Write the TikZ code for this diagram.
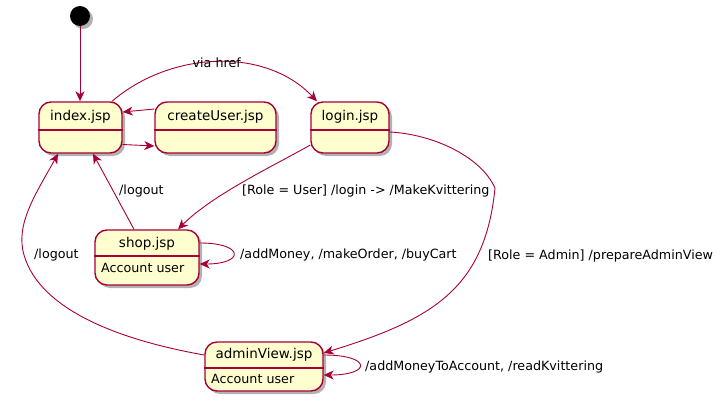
\documentclass[tikz,border=0pt]{standalone}
\usepackage{fontspec}
\setmainfont{DejaVu Sans}
\usepackage{xcolor}
\usetikzlibrary{arrows.meta}
\usetikzlibrary{shadows}

\definecolor{umlred}{HTML}{A80036}
\definecolor{umlfill}{HTML}{FEFECE}

\begin{document}
\begin{tikzpicture}[x=1pt, y=-1pt,
    statebox/.style={draw=umlred, fill=umlfill, line width=1.4pt, rounded corners=12pt, inner sep=0pt,
        drop shadow={shadow xshift=3pt, shadow yshift=-3pt, opacity=0.3, fill=black}},
    initial/.style={circle, fill=black, minimum size=20pt, inner sep=0pt,
        drop shadow={shadow xshift=3pt, shadow yshift=-3pt, opacity=0.3, fill=black}},
    statename/.style={font=\fontsize{13.5}{16}\selectfont, inner sep=0pt},
    descr/.style={font=\fontsize{12.7}{15}\selectfont, inner sep=0pt, anchor=west},
    sep/.style={draw=umlred, line width=1.1pt},
    trans/.style={draw=umlred, line width=0.9pt, -{Stealth[length=10pt, width=9pt, inset=3pt]}},
    lbl/.style={font=\fontsize{12.7}{15}\selectfont, inner sep=0pt, anchor=west}]
    \useasboundingbox (0,0) rectangle (720,404);

    % Start
    \node[initial] (start) at (80,16) {};

    % States
    \node[statebox, minimum width=83pt, minimum height=51pt] (index) at (80.5,127.5) {};
    \node[statename] (indexName) at (80.5,117) {index.jsp};
    \draw[sep] (index.west |- 0,130) -- (index.east |- 0,130);

    \node[statebox, minimum width=121pt, minimum height=51pt] (createUser) at (215.5,127.5) {};
    \node[statename] (createUserName) at (215.5,117) {createUser.jsp};
    \draw[sep] (createUser.west |- 0,130) -- (createUser.east |- 0,130);

    \node[statebox, minimum width=78pt, minimum height=51pt] (login) at (350,127.5) {};
    \node[statename] (loginName) at (350,117) {login.jsp};
    \draw[sep] (login.west |- 0,130) -- (login.east |- 0,130);

    \node[statebox, minimum width=104pt, minimum height=55pt] (shop) at (147,257.5) {};
    \node[statename] (shopName) at (147,244) {shop.jsp};
    \draw[sep] (shop.west |- 0,256) -- (shop.east |- 0,256);
    \node[descr] (shopDescr) at (101,268) {Account user};

    \node[statebox, minimum width=118pt, minimum height=49pt] (adminView) at (264,366.5) {};
    \node[statename] (adminViewName) at (264,355) {adminView.jsp};
    \draw[sep] (adminView.west |- 0,368) -- (adminView.east |- 0,368);
    \node[descr] (adminViewDescr) at (211,379) {Account user};

    % Bend points
    \coordinate (bendAdmin) at (495,188);
    \coordinate (bendLogout) at (24,255);

    % Transitions
    \draw[trans] (start) -- (start |- index.north);
    \draw[trans] ([yshift=-17pt]index.east) -- ([yshift=-18.5pt]createUser.west);
    \draw[trans] ([yshift=18.5pt]createUser.west) -- ([yshift=15.5pt]index.east);
    \draw[trans] ([xshift=31.5pt]index.north) .. controls +(58,-50) and +(-52,-55) .. ([xshift=-33pt]login.north)
        node[lbl, midway, anchor=center, yshift=-1pt] (lHref) {via href};
    \draw[trans] ([yshift=-17.5pt]login.west) .. controls +(-35,20) and +(35,-35) .. ([xshift=31pt]shop.north);
    \draw[trans] ([yshift=-4.5pt]login.east) .. controls +(41,2) and +(-15,-33) .. (bendAdmin)
        .. controls +(-10,102) and +(107,-33) .. ([yshift=13.5pt]adminView.east);
    \draw[trans] ([xshift=-13pt]shop.north) -- ([xshift=12.5pt]index.south);
    \draw[trans] ([yshift=11.5pt]adminView.west) .. controls +(-85,-15) and +(16,55) .. (bendLogout)
        .. controls +(-9,-31) and +(-22,40) .. ([xshift=-22.5pt]index.south);
    \draw[trans] ([yshift=14.5pt]shop.east) .. controls +(45,0) and +(45,0) .. ([yshift=-6.5pt]shop.east);
    \draw[trans] ([yshift=11.5pt]adminView.east) .. controls +(48,0) and +(48,0) .. ([yshift=-8.5pt]adminView.east);

    % Labels
    \node[lbl] (lUser) at (242,191) {[Role = User] /login -> /MakeKvittering};
    \node[lbl] (lAdmin) at (488,256) {[Role = Admin] /prepareAdminView};
    \node[lbl] (lLogoutShop) at (119,191) {/logout};
    \node[lbl] (lLogoutAdmin) at (34,255) {/logout};
    \node[lbl] (lShopLoop) at (240,255) {/addMoney, /makeOrder, /buyCart};
    \node[lbl] (lAdminLoop) at (365,367) {/addMoneyToAccount, /readKvittering};
\end{tikzpicture}
\end{document}
